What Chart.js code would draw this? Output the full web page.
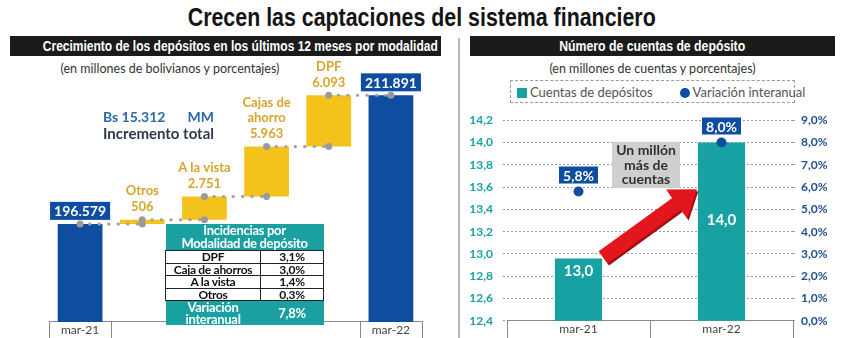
<!DOCTYPE html>
<html lang="es">
<head>
<meta charset="utf-8">
<title>Crecen las captaciones del sistema financiero</title>
<script src="https://cdn.jsdelivr.net/npm/chart.js@4.4.1/dist/chart.umd.min.js"></script>
<style>
  body { margin: 0; background: #fff; }
  #pagina { position: relative; width: 843px; height: 338px; overflow: hidden; font-family: Lato, "Open Sans", sans-serif; }
  .angosta { font-family: "Liberation Sans", Arial, sans-serif; font-weight: bold; white-space: nowrap; }
  .angosta span { display: inline-block; transform-origin: 50% 50%; }
  #titulo { position: absolute; left: 0; top: 3px; width: 843px; text-align: center; font-size: 25px; color: #141414; }
  .cabecera { position: absolute; top: 36px; height: 20px; line-height: 20px; background: #1b1b1b; color: #fff; font-size: 14px; text-align: center; }
  #separador { position: absolute; left: 458px; top: 38px; width: 2px; height: 300px; background: #b8b8b8; }
  .subtitulo { position: absolute; top: 61px; font-size: 12.5px; color: #333; text-align: center; white-space: nowrap; }
  canvas { position: absolute; }
  #incremento { position: absolute; left: 103px; top: 108px; font-weight: bold; line-height: 17px; }
  #incremento .monto { color: #2a6aab; font-size: 14px; }
  #incremento .mm { margin-left: 22px; }
  #incremento .texto { color: #2e3a4c; font-size: 15px; }
  #tabla { position: absolute; left: 165px; top: 224px; width: 159px; border-collapse: collapse; font-weight: bold; font-size: 12px; letter-spacing: -0.3px; }
  #tabla th { background: #1ba0a1; color: #fff; font-size: 13px; line-height: 13px; padding: 0; }
  #tabla tbody td { border: 1px solid #222; background: #fff; color: #111; line-height: 11.5px; padding: 0; text-align: center; }
  #tabla tbody td:first-child { width: 94px; }
  #tabla tfoot td { background: #1ba0a1; color: #fff; font-size: 13px; line-height: 12px; padding: 0; text-align: center; }
  #leyenda { position: absolute; left: 510px; top: 80px; width: 285px; height: 23px; box-sizing: border-box; border: 1px dashed #9a9a9a; display: flex; align-items: center; padding-left: 6px; gap: 27px; font-size: 13px; color: #555; white-space: nowrap; }
  #leyenda .marca { display: inline-block; width: 10px; height: 10px; margin-right: 3px; vertical-align: -1px; }
</style>
</head>
<body>
<div id="pagina">
  <div id="titulo" class="angosta"><span>Crecen las captaciones del sistema financiero</span></div>
  <div id="cabIzq" class="cabecera angosta" style="left:10px; width:431px;"><span>Crecimiento de los depósitos en los últimos 12 meses por modalidad</span></div>
  <div id="cabDer" class="cabecera angosta" style="left:470px; width:365px;"><span>Número de cuentas de depósito</span></div>
  <div id="separador"></div>
  <div class="subtitulo" style="left:40px; width:260px;">(en millones de bolivianos y porcentajes)</div>
  <div class="subtitulo" style="left:520px; width:265px;">(en millones de cuentas y porcentajes)</div>

  <canvas id="graficoDepositos" width="450" height="278" style="left:0; top:60px;"></canvas>
  <canvas id="graficoCuentas" width="383" height="235" style="left:460px; top:103px;"></canvas>

  <div id="incremento">
    <div class="monto"><span id="montoIncremento"></span><span class="mm">MM</span></div>
    <div class="texto">Incremento total</div>
  </div>

  <table id="tabla">
    <thead><tr><th colspan="2">Incidencias por<br>Modalidad de depósito</th></tr></thead>
    <tbody id="tablaCuerpo"></tbody>
    <tfoot><tr><td>Variación<br>interanual</td><td id="tablaTotal"></td></tr></tfoot>
  </table>

  <div id="leyenda"></div>
</div>

<script>
const fuente = "Lato, 'Open Sans', sans-serif";
const AZUL = "#0e4d9f";
const AMARILLO = "#f3c21b";
const DORADO = "#d6a52b";
const TURQUESA = "#18a1a3";
const GRIS = "#a2a2a2";
const LINEA_EJE = "#8a8a8a";

// depósitos, millones de Bs
const periodos = ["mar-21", "mar-22"];
const saldoInicial = 196579;
const saldoFinal = 211891;
const modalidades = ["Otros", "A la vista", "Cajas de ahorro", "DPF"];
const etiquetasModalidad = [["Otros"], ["A la vista"], ["Cajas de", "ahorro"], ["DPF"]];
const incrementos = [506, 2751, 5963, 6093];

// incidencias por modalidad (%)
const incidenciaNombres = ["DPF", "Caja de ahorros", "A la vista", "Otros"];
const incidenciaValores = [3.1, 3.0, 1.4, 0.3];
const variacionTotal = 7.8;

// cuentas de depósito, millones
const cuentasPeriodos = ["mar-21", "mar-22"];
const cuentas = [12.96, 14.0];
const variacionInteranual = [5.8, 8.0];
const ejeCuentas = { min: 12.4, max: 14.2, paso: 0.2 };
const ejeVariacion = { min: 0, max: 9, paso: 1 };

// etiqueta dentro de la barra, px bajo el tope
const bajadaEtiqueta = [13, 78];

function miles(n) {
    return String(n).replace(/\B(?=(\d{3})+(?!\d))/g, ".");
}

function coma(n, dec) {
    return n.toFixed(dec).replace(".", ",");
}

// los titulares van en letra condensada
function ajustarAncho(id, ancho) {
    const span = document.getElementById(id).firstElementChild;
    const k = ancho / span.getBoundingClientRect().width;
    span.style.transform = "scaleX(" + k + ")";
}
ajustarAncho("titulo", 468);
ajustarAncho("cabIzq", 395);
ajustarAncho("cabDer", 186);

function cajaTexto(ctx, texto, cx, abajo, alto, color) {
    ctx.font = "bold 14px " + fuente;
    const ancho = ctx.measureText(texto).width + 8;
    ctx.fillStyle = color;
    ctx.fillRect(cx - ancho / 2, abajo - alto, ancho, alto);
    ctx.fillStyle = "#fff";
    ctx.textAlign = "center";
    ctx.textBaseline = "middle";
    ctx.fillText(texto, cx, abajo - alto / 2 + 1);
}

// marcas verticales bajo el eje x, en los bordes de categoría
function lineasEje(bordes) {
    return {
        id: "lineasEje",
        afterDraw(chart) {
            const x = chart.scales.x;
            const ctx = chart.ctx;
            const paso = x.width / chart.data.labels.length;
            ctx.save();
            ctx.strokeStyle = LINEA_EJE;
            ctx.lineWidth = 1;
            bordes.forEach(k => {
                const px = Math.round(x.left + k * paso) + 0.5;
                ctx.beginPath();
                ctx.moveTo(px, x.top);
                ctx.lineTo(px, chart.height);
                ctx.stroke();
            });
            ctx.restore();
        }
    };
}

const ejeX = {
    grid: { display: false, drawTicks: false },
    border: { display: true, color: LINEA_EJE },
    ticks: {
        autoSkip: false,
        maxRotation: 0,
        padding: 0,
        color: "#444",
        font: { size: 12, family: fuente, lineHeight: 1.34 }
    }
};

// ---------- gráfico izquierdo: cascada ----------

const categorias = [periodos[0], ...modalidades, periodos[1]];

const niveles = [saldoInicial];
incrementos.forEach(v => niveles.push(niveles[niveles.length - 1] + v));

const barras = [
    saldoInicial,
    ...incrementos.map((v, i) => [niveles[i], niveles[i + 1]]),
    saldoFinal
];

const ultimo = categorias.length - 1;

const coloresBarras =
    categorias.map((c, i) => (i === 0 || i === ultimo) ? AZUL : AMARILLO);

const conectores = niveles.map((nivel, i) => ({
    type: "line",
    data: categorias.map((c, j) => (j === i || j === i + 1) ? nivel : null),
    borderColor: GRIS,
    borderWidth: 3,
    borderDash: [0.5, 9],
    borderCapStyle: "round",
    pointRadius: 3.5,
    pointBackgroundColor: "#9a9a9a",
    pointBorderWidth: 0,
    spanGaps: false,
    order: 0
}));

const etiquetasDepositos = {
    id: "etiquetasDepositos",
    afterDatasetsDraw(chart) {
        const ctx = chart.ctx;
        const meta = chart.getDatasetMeta(0);
        ctx.save();
        meta.data.forEach((barra, i) => {
            if (i === 0 || i === ultimo) {
                const valor = i === 0 ? saldoInicial : saldoFinal;
                cajaTexto(ctx, miles(valor), barra.x, barra.y - 4, 18, AZUL);
            } else {
                const lineas = etiquetasModalidad[i - 1].concat(miles(incrementos[i - 1]));
                ctx.font = "bold 13px " + fuente;
                ctx.fillStyle = DORADO;
                ctx.textAlign = "center";
                ctx.textBaseline = "middle";
                lineas.forEach((t, k) => {
                    const y = barra.y - 13 - (lineas.length - 1 - k) * 15.5;
                    ctx.fillText(t, barra.x, y);
                });
            }
        });
        ctx.restore();
    }
};

new Chart(document.getElementById("graficoDepositos"), {
    data: {
        labels: categorias,
        datasets: [
            {
                type: "bar",
                data: barras,
                backgroundColor: coloresBarras,
                barPercentage: 0.72,
                categoryPercentage: 1,
                order: 1
            },
            ...conectores
        ]
    },
    options: {
        responsive: false,
        animation: false,
        layout: { autoPadding: false, padding: { left: 49, right: 28, top: 0, bottom: 0 } },
        plugins: { legend: { display: false }, tooltip: { enabled: false } },
        scales: {
            x: {
                ...ejeX,
                ticks: {
                    ...ejeX.ticks,
                    callback: (v, i) => periodos.includes(categorias[i]) ? categorias[i] : ""
                }
            },
            y: { display: false, min: 184900, max: 216100 }
        }
    },
    plugins: [etiquetasDepositos, lineasEje([0, 1, ultimo, ultimo + 1])]
});

document.getElementById("montoIncremento").textContent = "Bs " + miles(saldoFinal - saldoInicial);

const cuerpo = document.getElementById("tablaCuerpo");
incidenciaNombres.forEach((nombre, i) => {
    const fila = document.createElement("tr");
    fila.innerHTML = "<td>" + nombre + "</td><td>" + coma(incidenciaValores[i], 1) + "%</td>";
    cuerpo.appendChild(fila);
});
document.getElementById("tablaTotal").textContent = coma(variacionTotal, 1) + "%";

// ---------- gráfico derecho: cuentas ----------

function flecha(ctx, x0, y0, x1, y1) {
    const ang = Math.atan2(y1 - y0, x1 - x0);
    const largo = Math.hypot(x1 - x0, y1 - y0);
    const medioCuerpo = 7.5, medioPunta = 18, punta = 25;
    const trazar = () => {
        ctx.beginPath();
        ctx.moveTo(0, -medioCuerpo);
        ctx.lineTo(largo - punta, -medioCuerpo);
        ctx.lineTo(largo - punta, -medioPunta);
        ctx.lineTo(largo, 0);
        ctx.lineTo(largo - punta, medioPunta);
        ctx.lineTo(largo - punta, medioCuerpo);
        ctx.lineTo(0, medioCuerpo);
        ctx.closePath();
    };
    ctx.save();
    ctx.translate(x0, y0);
    ctx.rotate(ang);
    ctx.translate(0, 2.5);
    trazar();
    ctx.fillStyle = "#9c1016";
    ctx.fill();
    ctx.translate(0, -2.5);
    trazar();
    ctx.fillStyle = "#e3161e";
    ctx.fill();
    ctx.restore();
}

const anotacionesCuentas = {
    id: "anotacionesCuentas",
    afterDatasetsDraw(chart) {
        const ctx = chart.ctx;
        const barras = chart.getDatasetMeta(0).data;
        const puntos = chart.getDatasetMeta(1).data;
        const y = chart.scales.y;
        ctx.save();

        // flecha entre barras
        const b0 = barras[0], b1 = barras[1];
        flecha(
            ctx,
            b0.x + b0.width / 2 + 1,
            b0.y - 1,
            b1.x - b1.width / 2 - 1,
            y.getPixelForValue((cuentas[0] + cuentas[1]) / 2 + 0.1)
        );

        // recuadro gris
        const cx = (b0.x + b1.x) / 2 - 4;
        const cy = y.getPixelForValue(13.8);
        ctx.fillStyle = "#cfcfcf";
        ctx.fillRect(cx - 34, cy - 23, 68, 46);
        ctx.fillStyle = "#303030";
        ctx.font = "bold 14px " + fuente;
        ctx.textAlign = "center";
        ctx.textBaseline = "middle";
        ["Un millón", "más de", "cuentas"].forEach((t, k) => ctx.fillText(t, cx, cy - 14 + k * 14.5));

        // valores en barras
        ctx.font = "bold 15px " + fuente;
        ctx.fillStyle = "#fff";
        barras.forEach((b, i) => ctx.fillText(coma(cuentas[i], 1), b.x, b.y + bajadaEtiqueta[i]));

        // variación sobre los puntos
        puntos.forEach((p, i) => cajaTexto(ctx, coma(variacionInteranual[i], 1) + "%", p.x, p.y - 8, 17, AZUL));

        ctx.restore();
    }
};

const graficoCuentas = new Chart(document.getElementById("graficoCuentas"), {
    data: {
        labels: cuentasPeriodos,
        datasets: [
            {
                type: "bar",
                label: "Cuentas de depósitos",
                data: cuentas,
                backgroundColor: TURQUESA,
                yAxisID: "y",
                barPercentage: 0.33,
                categoryPercentage: 1,
                order: 1
            },
            {
                type: "line",
                label: "Variación interanual",
                data: variacionInteranual,
                yAxisID: "y1",
                showLine: false,
                pointRadius: 5,
                pointBackgroundColor: AZUL,
                pointBorderWidth: 0,
                backgroundColor: AZUL,
                order: 0
            }
        ]
    },
    options: {
        responsive: false,
        animation: false,
        layout: { autoPadding: false, padding: 0 },
        plugins: { legend: { display: false }, tooltip: { enabled: false } },
        scales: {
            x: ejeX,
            y: {
                position: "left",
                min: ejeCuentas.min,
                max: ejeCuentas.max,
                ticks: {
                    stepSize: ejeCuentas.paso,
                    padding: 10,
                    color: TURQUESA,
                    font: { size: 12, weight: "bold", family: fuente },
                    callback: v => coma(v, 1)
                },
                grid: { color: "#9a9a9a", tickLength: 4, tickColor: "#9a9a9a", tickBorderDash: [2, 2] },
                border: { display: false, dash: [2, 2] },
                afterFit: s => { s.width = 47; }
            },
            y1: {
                position: "right",
                min: ejeVariacion.min,
                max: ejeVariacion.max,
                ticks: {
                    stepSize: ejeVariacion.paso,
                    padding: 4,
                    color: "#1f4f8f",
                    font: { size: 12, weight: "bold", family: fuente },
                    callback: v => coma(v, 1) + "%"
                },
                grid: { drawOnChartArea: false, tickLength: 4, tickColor: "#9a9a9a", tickBorderDash: [2, 2] },
                border: { display: false },
                afterFit: s => { s.width = 50; }
            }
        }
    },
    plugins: [anotacionesCuentas, lineasEje([0, 1, 2])]
});

// leyenda a partir de las series
const leyenda = document.getElementById("leyenda");
graficoCuentas.data.datasets.forEach(ds => {
    const item = document.createElement("span");
    const marca = document.createElement("span");
    marca.className = "marca";
    marca.style.background = ds.backgroundColor;
    if (ds.type === "line") marca.style.borderRadius = "50%";
    item.appendChild(marca);
    item.appendChild(document.createTextNode(ds.label));
    leyenda.appendChild(item);
});
</script>
</body>
</html>
